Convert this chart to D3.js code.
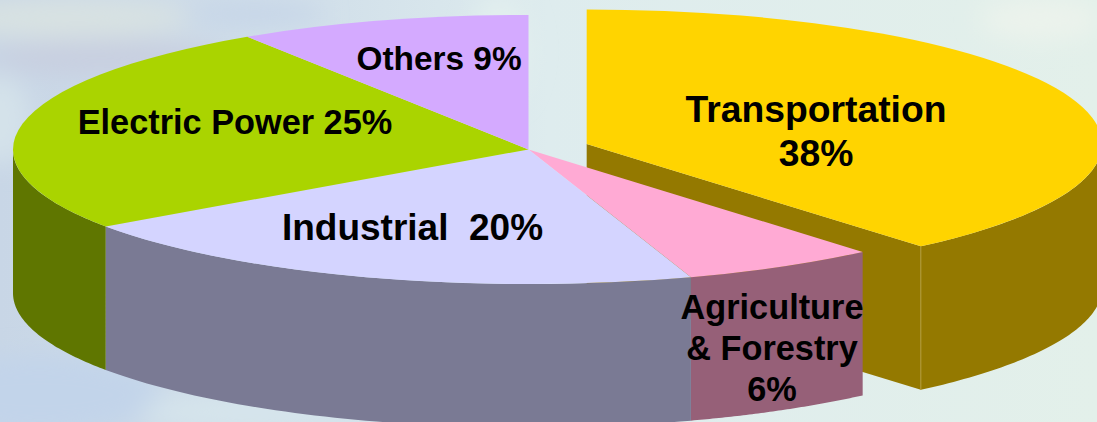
<!DOCTYPE html>
<html>
<head>
<meta charset="utf-8">
<script src="https://cdn.jsdelivr.net/npm/d3@7"></script>
<style>
  html, body { margin: 0; padding: 0; overflow: hidden; background: #e0eeec; }
  text { font-family: "Liberation Sans", Arial, sans-serif; font-weight: bold; fill: #000; white-space: pre; }
</style>
</head>
<body>
<div id="container"></div>
<script>
/* DATA */
const sectors = ['Transportation', 'Agriculture & Forestry', 'Industrial', 'Electric Power', 'Others'];
const shares = [38, 6, 20, 25, 9];
const topColors = ['#ffd400', '#ffaad4', '#d4d4ff', '#aad400', '#d4aaff'];
const wallColors = ['#947900', '#966078', '#7a7a94', '#5f7600', '#7d6496'];

/* CONSTANTS AND GLOBALS */
const width = 1097,
  height = 422,
  cx = 528.5,
  cy = 149.5,
  rx = 515.5,
  ry = 134.5,
  depth = 143.5,
  explode = 62;

const squash = ry / rx;

const svg = d3.select('#container')
  .append('svg')
  .attr('width', width)
  .attr('height', height)
  .style('display', 'block');

// BACKGROUND (blurry sky picture behind the slide)
const defs = svg.append('defs');
const bg = defs.append('linearGradient').attr('id', 'bg');
bg.append('stop').attr('offset', '0').attr('stop-color', '#c8d6e6');
bg.append('stop').attr('offset', '0.3').attr('stop-color', '#d2e0ea');
bg.append('stop').attr('offset', '0.5').attr('stop-color', '#deecee');
bg.append('stop').attr('offset', '1').attr('stop-color', '#e3f0ea');
defs.append('filter').attr('id', 'soft')
  .attr('x', '-50%').attr('y', '-50%').attr('width', '200%').attr('height', '200%')
  .append('feGaussianBlur').attr('stdDeviation', 12);

svg.append('rect').attr('width', width).attr('height', height).attr('fill', 'url(#bg)');

const clouds = svg.append('g').attr('filter', 'url(#soft)');
[
  [60, 18, 130, 20, '#d8e2e2'],
  [110, 58, 120, 18, '#c8cfe0'],
  [255, 14, 70, 12, '#c6d5e8'],
  [0, 120, 30, 45, '#d4e2ea'],
  [40, 395, 120, 40, '#c2d4ea'],
  [250, 412, 110, 18, '#d6e5ec'],
  [500, 50, 30, 55, '#e2efee'],
  [1040, 20, 60, 20, '#ecf3ec']
].forEach(c => {
  clouds.append('ellipse')
    .attr('cx', c[0]).attr('cy', c[1]).attr('rx', c[2]).attr('ry', c[3]).attr('fill', c[4]);
});

// PIE LAYOUT
const pie = d3.pie().sort(null).value(d => d);
const slices = pie(shares).map((d, i) => {
  // only the first slice is pulled out, along its bisector
  const off = i === 0 ? d3.pointRadial((d.startAngle + d.endAngle) / 2, explode) : [0, 0];
  return { ...d, name: sectors[i], dx: cx + off[0], dy: cy + off[1] * squash };
});

const topColor = d3.scaleOrdinal().domain(sectors).range(topColors);
const wallColor = d3.scaleOrdinal().domain(sectors).range(wallColors);

const arc = d3.arc().innerRadius(0).outerRadius(rx);
const flat = a => {
  const p = d3.pointRadial(a, rx);
  return [p[0], p[1] * squash];
};

// outer wall of one slice, only the part on the front half of the ellipse
function wallPath(s) {
  const a0 = Math.max(s.startAngle, Math.PI / 2),
    a1 = Math.min(s.endAngle, Math.PI * 1.5);
  if (a1 <= a0) return null;
  const n = 60;
  const angles = d3.range(n + 1).map(i => a0 + (a1 - a0) * i / n);
  const upper = angles.map(flat);
  const lower = upper.slice().reverse().map(p => [p[0], p[1] + depth]);
  return d3.line()(upper.concat(lower)) + 'Z';
}

// DRAW THE EXPLODED SLICE FIRST, THE REST SIT ON TOP OF IT
const first = slices[0];
const firstG = svg.append('g').attr('transform', `translate(${first.dx},${first.dy})`);
const cut = flat(first.endAngle);

firstG.append('path')
  .attr('d', d3.line()([[0, 0], cut, [cut[0], cut[1] + depth], [0, depth]]) + 'Z')
  .attr('fill', wallColor(first.name));
firstG.append('path')
  .attr('d', wallPath(first))
  .attr('fill', wallColor(first.name));
firstG.append('line')
  .attr('x1', cut[0]).attr('y1', cut[1])
  .attr('x2', cut[0]).attr('y2', cut[1] + depth)
  .attr('stroke', '#b39c3c')
  .attr('stroke-width', 1);
firstG.append('path')
  .attr('transform', `scale(1,${squash})`)
  .attr('d', arc(first))
  .attr('fill', topColor(first.name));

// WALLS OF THE OTHER SLICES
const mainG = svg.append('g').attr('transform', `translate(${cx},${cy})`);
const rest = slices.slice(1);

mainG.selectAll('.wall')
  .data(rest.filter(wallPath))
  .join('path')
  .attr('class', 'wall')
  .attr('d', wallPath)
  .attr('fill', d => wallColor(d.name));

// TOPS
mainG.selectAll('.top')
  .data(rest)
  .join('path')
  .attr('class', 'top')
  .attr('transform', `scale(1,${squash})`)
  .attr('d', arc)
  .attr('fill', d => topColor(d.name));

// LABELS
const labels = [
  { lines: ['Transportation', shares[0] + '%'], x: 816, y: 122, size: 37.3, lh: 44 },
  { lines: ['Agriculture', '& Forestry', shares[1] + '%'], x: 772, y: 319, size: 34.3, lh: 41 },
  { lines: ['Industrial  ' + shares[2] + '%'], x: 412.5, y: 240, size: 37, lh: 0 },
  { lines: ['Electric Power ' + shares[3] + '%'], x: 235, y: 134, size: 34.3, lh: 0 },
  { lines: ['Others ' + shares[4] + '%'], x: 439, y: 70, size: 33.4, lh: 0 }
];

labels.forEach(l => {
  svg.append('text')
    .attr('text-anchor', 'middle')
    .attr('font-size', l.size)
    .selectAll('tspan')
    .data(l.lines)
    .join('tspan')
    .attr('x', l.x)
    .attr('y', (d, i) => l.y + i * l.lh)
    .text(d => d);
});
</script>
</body>
</html>
